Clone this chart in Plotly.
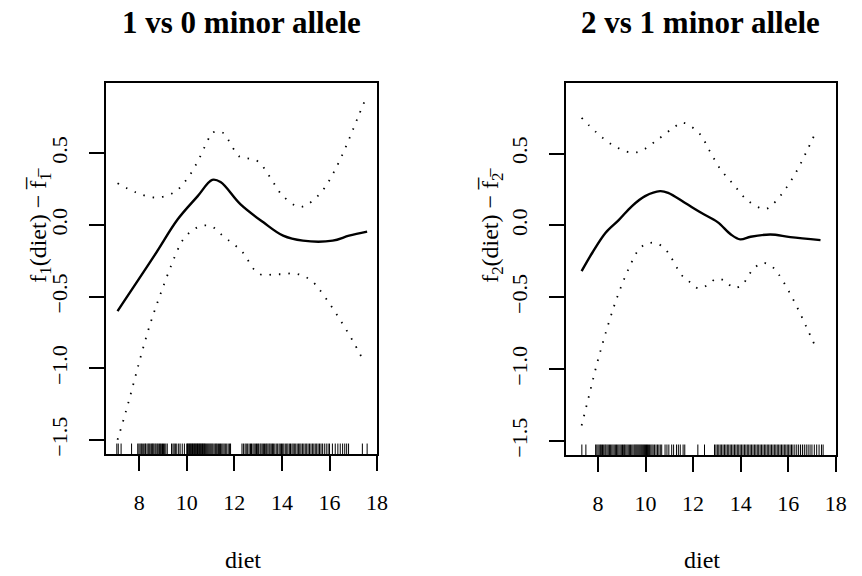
import plotly.graph_objects as go

# ---------------- data ----------------
# Panel 1: 1 vs 0 minor allele
p1_fit_x = [7.09, 8.65, 9.62, 10.45, 11.07, 11.42, 12.25, 13.22, 14.05, 14.88, 16.13, 16.82, 17.58]
p1_fit_y = [-0.60, -0.21, 0.04, 0.20, 0.315, 0.30, 0.146, 0.019, -0.074, -0.109, -0.109, -0.074, -0.046]

p1_up_x = [7.09, 7.85, 8.68, 9.48, 10.05, 10.49, 10.87, 11.07, 11.46, 11.73, 12.22, 12.63, 13.01, 13.53,
           14.02, 14.72, 15.11, 15.73, 16.17, 16.55, 16.89, 17.20, 17.54]
p1_up_y = [0.292, 0.229, 0.192, 0.229, 0.331, 0.454, 0.586, 0.644, 0.650, 0.597, 0.477, 0.463, 0.442, 0.326,
           0.206, 0.127, 0.148, 0.245, 0.366, 0.495, 0.627, 0.755, 0.889]

p1_lo_x = [7.09, 7.45, 7.79, 8.12, 8.48, 8.90, 9.36, 9.70, 9.93, 10.26, 10.63, 11.05, 11.38, 11.73, 12.35,
           12.83, 13.19, 13.64, 14.05, 14.48, 14.91, 15.26, 15.55, 16.06, 16.52, 16.96, 17.38]
p1_lo_y = [-1.498, -1.296, -1.088, -0.884, -0.681, -0.479, -0.276, -0.144, -0.083, -0.035, -0.005, -0.009,
           -0.056, -0.102, -0.190, -0.310, -0.350, -0.343, -0.343, -0.336, -0.356, -0.391, -0.444, -0.563,
           -0.681, -0.803, -0.931]

p1_rug = [7.06, 7.12, 7.24, 7.68, 7.94, 7.99, 8.04, 8.09, 8.13, 8.19, 8.24, 8.27, 8.33, 8.38, 8.42, 8.46,
          8.51, 8.55, 8.58, 8.62, 8.67, 8.71, 8.76, 8.8, 8.85, 8.89, 8.93, 8.98, 9.02, 9.07, 9.12, 9.18, 9.36,
          9.42, 9.47, 9.52, 9.58, 9.66, 9.72, 9.81, 9.9, 10.0, 10.03, 10.06, 10.09, 10.12, 10.15, 10.18, 10.21,
          10.24, 10.27, 10.3, 10.33, 10.36, 10.39, 10.42, 10.45, 10.48, 10.51, 10.54, 10.57, 10.6, 10.63,
          10.66, 10.69, 10.72, 10.75, 10.78, 10.82, 10.86, 10.9, 10.94, 10.98, 11.02, 11.06, 11.1, 11.15,
          11.2, 11.24, 11.28, 11.33, 11.38, 11.42, 11.47, 11.52, 11.57, 11.62, 11.68, 11.74, 11.8, 11.84,
          12.32, 12.38, 12.45, 12.5, 12.56, 12.62, 12.68, 12.72, 12.78, 12.83, 12.88, 12.93, 12.98, 13.02,
          13.08, 13.12, 13.17, 13.22, 13.27, 13.32, 13.36, 13.41, 13.46, 13.5, 13.55, 13.6, 13.64, 13.7,
          13.76, 13.82, 13.88, 13.93, 13.98, 14.03, 14.08, 14.14, 14.2, 14.25, 14.31, 14.36, 14.42, 14.47,
          14.52, 14.58, 14.64, 14.7, 14.75, 14.8, 14.86, 14.92, 14.98, 15.04, 15.1, 15.16, 15.22, 15.28,
          15.34, 15.4, 15.46, 15.52, 15.58, 15.64, 15.7, 15.78, 15.86, 15.94, 16.0, 16.12, 16.24, 16.35,
          16.45, 16.55, 16.64, 16.72, 16.8, 17.38, 17.58]

# Panel 2: 2 vs 1 minor allele
p2_fit_x = [7.31, 7.76, 8.32, 8.87, 9.43, 9.98, 10.61, 10.95, 11.65, 12.34, 13.03, 13.59, 13.98, 14.42,
            15.25, 16.09, 17.36]
p2_fit_y = [-0.318, -0.190, -0.051, 0.037, 0.135, 0.204, 0.239, 0.227, 0.158, 0.088, 0.023, -0.063, -0.097,
            -0.079, -0.063, -0.081, -0.102]

p2_up_x = [7.31, 7.90, 8.60, 9.36, 9.79, 10.50, 11.19, 11.56, 12.27, 12.70, 13.15, 13.71, 14.28, 15.02,
           15.39, 15.92, 16.38, 16.77, 17.15]
p2_up_y = [0.749, 0.652, 0.561, 0.508, 0.517, 0.596, 0.682, 0.715, 0.638, 0.517, 0.392, 0.283, 0.176, 0.114,
           0.153, 0.262, 0.385, 0.513, 0.645]

p2_lo_x = [7.31, 7.63, 7.94, 8.29, 8.67, 8.97, 9.30, 9.72, 10.08, 10.48, 10.84, 11.08, 11.54, 11.86, 12.23,
           12.62, 12.97, 13.34, 13.70, 14.07, 14.31, 14.57, 14.93, 15.31, 15.61, 16.04, 16.43, 16.79, 17.15]
p2_lo_y = [-1.392, -1.179, -0.972, -0.766, -0.564, -0.427, -0.297, -0.167, -0.125, -0.125, -0.167, -0.225,
           -0.350, -0.394, -0.439, -0.413, -0.371, -0.385, -0.434, -0.413, -0.353, -0.297, -0.260, -0.285,
           -0.343, -0.462, -0.587, -0.715, -0.845]

p2_rug = [7.32, 7.49, 7.9, 7.95, 8.0, 8.05, 8.1, 8.14, 8.19, 8.24, 8.29, 8.33, 8.38, 8.43, 8.48, 8.53, 8.58,
          8.63, 8.68, 8.73, 8.78, 8.83, 8.88, 8.93, 8.98, 9.03, 9.08, 9.12, 9.17, 9.22, 9.27, 9.32, 9.37,
          9.42, 9.47, 9.52, 9.56, 9.6, 9.64, 9.68, 9.72, 9.76, 9.8, 9.84, 9.88, 9.92, 9.96, 10.0, 10.04,
          10.08, 10.12, 10.17, 10.22, 10.27, 10.32, 10.38, 10.44, 10.5, 10.56, 10.62, 10.68, 10.82, 10.9,
          10.98, 11.1, 11.18, 11.3, 11.38, 11.46, 11.58, 11.65, 12.2, 12.48, 12.9, 12.96, 13.02, 13.08,
          13.14, 13.2, 13.26, 13.32, 13.38, 13.44, 13.5, 13.56, 13.62, 13.68, 13.74, 13.8, 13.86, 13.92,
          13.98, 14.04, 14.1, 14.16, 14.22, 14.28, 14.34, 14.4, 14.46, 14.52, 14.58, 14.64, 14.7, 14.76,
          14.82, 14.88, 14.94, 15.0, 15.06, 15.12, 15.18, 15.24, 15.3, 15.36, 15.42, 15.48, 15.54, 15.6,
          15.66, 15.72, 15.78, 15.84, 15.9, 15.96, 16.02, 16.08, 16.14, 16.2, 16.28, 16.36, 16.44, 16.52,
          16.6, 16.68, 16.76, 16.84, 16.92, 17.0, 17.1, 17.2, 17.3, 17.4, 17.47]

titles = ["1 vs 0 minor allele", "2 vs 1 minor allele"]
x_label = "diet"
y_labels = ["f<sub>1</sub>(diet) \u2212 f\u0305<sub>1\u0305</sub>",
            "f<sub>2</sub>(diet) \u2212 f\u0305<sub>2\u0305</sub>"]
x_ticks = [8, 10, 12, 14, 16, 18]
y_ticks = [-1.5, -1.0, -0.5, 0.0, 0.5]
y_tick_text = ["\u22121.5", "\u22121.0", "\u22120.5", "0.0", "0.5"]

# ---------------- figure ----------------
FONT = "Liberation Serif"
YR = [-1.600, 0.993]
RUG_Y = -1.568

fig = go.Figure()

panels = [
    (p1_fit_x, p1_fit_y, p1_up_x, p1_up_y, p1_lo_x, p1_lo_y, p1_rug, "x", "y"),
    (p2_fit_x, p2_fit_y, p2_up_x, p2_up_y, p2_lo_x, p2_lo_y, p2_rug, "x2", "y2"),
]
for fx, fy, ux, uy, lx, ly, rug, xa, ya in panels:
    fig.add_trace(go.Scatter(x=fx, y=fy, mode="lines", line=dict(color="black", width=2.4, shape="spline"),
                             xaxis=xa, yaxis=ya, showlegend=False, hoverinfo="skip"))
    for bx, by in ((ux, uy), (lx, ly)):
        fig.add_trace(go.Scatter(x=bx, y=by, mode="lines",
                                 line=dict(color="black", width=1.8, shape="spline", dash="1.5px,8px"),
                                 xaxis=xa, yaxis=ya, showlegend=False, hoverinfo="skip"))
    fig.add_trace(go.Scatter(x=rug, y=[RUG_Y] * len(rug), mode="markers",
                             marker=dict(symbol="line-ns", size=9, line=dict(color="black", width=1)),
                             xaxis=xa, yaxis=ya, showlegend=False, hoverinfo="skip"))

axis_common = dict(showline=True, linecolor="black", linewidth=2, mirror=True, ticks="outside",
                   ticklen=15, tickwidth=2, tickcolor="black", showgrid=False, zeroline=False,
                   tickfont=dict(family=FONT, size=22, color="black"))

fig.update_layout(
    width=862, height=576,
    margin=dict(l=0, r=0, t=0, b=0),
    paper_bgcolor="white", plot_bgcolor="white",
    font=dict(family=FONT, color="black"),
    xaxis=dict(domain=[107 / 862, 382 / 862], range=[6.59, 18.0], tickvals=x_ticks, anchor="y",
               ticklabelstandoff=12, **axis_common),
    yaxis=dict(domain=[1 - 456 / 576, 1 - 83 / 576], range=YR, tickvals=y_ticks, ticktext=y_tick_text,
               tickangle=-90, anchor="x", ticklabelstandoff=13, **axis_common),
    xaxis2=dict(domain=[573 / 862, 847 / 862], range=[6.64, 18.02], tickvals=x_ticks, anchor="y2",
                ticklabelstandoff=12, **axis_common),
    yaxis2=dict(domain=[1 - 457 / 576, 1 - 83 / 576], range=YR, tickvals=y_ticks, ticktext=y_tick_text,
                tickangle=-90, anchor="x2", ticklabelstandoff=13, **axis_common),
)

ann = []
for cx, t in ((244.5, titles[0]), (710, titles[1])):
    ann.append(dict(x=cx / 862, y=1 - 23 / 576, xref="paper", yref="paper", text="<b>" + t + "</b>",
                    showarrow=False, font=dict(family=FONT, size=31, color="black"),
                    xanchor="center", yanchor="middle"))
for cx in (246, 711):
    ann.append(dict(x=cx / 862, y=1 - 562 / 576, xref="paper", yref="paper", text=x_label,
                    showarrow=False, font=dict(family=FONT, size=24, color="black"),
                    xanchor="center", yanchor="middle"))
for cx, t in ((41, y_labels[0]), (499, y_labels[1])):
    ann.append(dict(x=cx / 862, y=1 - 226 / 576, xref="paper", yref="paper", text=t, textangle=-90,
                    showarrow=False, font=dict(family=FONT, size=24, color="black"),
                    xanchor="center", yanchor="middle"))
fig.update_layout(annotations=ann)

fig.write_html("out.html", config={"displayModeBar": False, "staticPlot": True},
               post_script="document.body.style.margin='0px';document.body.style.overflow='hidden';")
